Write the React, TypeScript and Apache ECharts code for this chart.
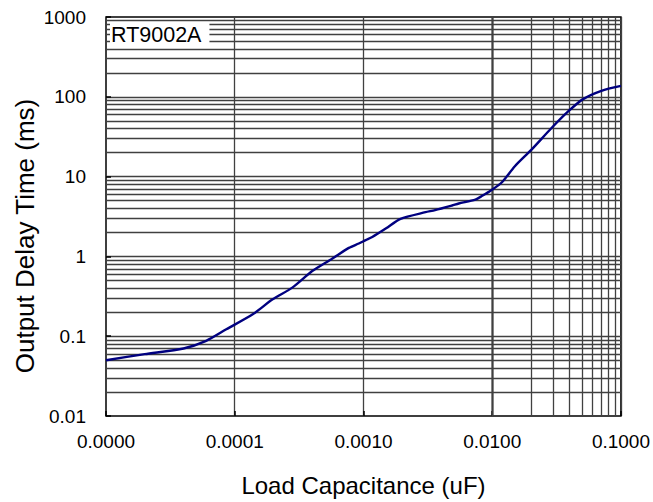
import React, { useEffect, useRef } from "react";
import * as echarts from "echarts";

const capacitance = [0.00001, 0.00002, 0.00004, 0.00006, 0.000086, 0.000138, 0.000197, 0.00028, 0.0004, 0.00057, 0.00077, 0.00092, 0.00104, 0.00117, 0.0015, 0.00194, 0.00303, 0.0036, 0.00487, 0.0055, 0.0074, 0.0083, 0.0099, 0.0119, 0.015, 0.0202, 0.0289, 0.0389, 0.0508, 0.0705, 0.1];
const delay = [0.05, 0.0596, 0.0702, 0.0874, 0.122, 0.188, 0.29, 0.406, 0.655, 0.935, 1.28, 1.45, 1.6, 1.75, 2.25, 2.96, 3.58, 3.8, 4.34, 4.6, 5.16, 5.7, 6.8, 8.5, 13.5, 21.8, 40.6, 65.5, 93.5, 119, 137];

const xDecades = [-5, -4, -3, -2];
const yDecades = [-2, -1, 0, 1, 2];
const minorMultipliers = [2, 3, 4, 5, 6, 7, 8, 9];

const titleText = "Output Delay Time vs. Load Capacitance";
const xTitle = "Load Capacitance (uF)";
const yTitle = "Output Delay Time (ms)";
const deviceLabel = "RT9002A";

const FONT = 'Arial, "Liberation Sans", sans-serif';
const GRID = "#404040";

export default function App() {
  const ref = useRef<HTMLDivElement>(null);
  useEffect(() => {
    if (!ref.current) return;
    const chart = echarts.init(ref.current, null, { renderer: "svg" });
    const gridMarks: any[] = [];
    xDecades.forEach((d) => minorMultipliers.forEach((m) => gridMarks.push({ xAxis: Number((m * Math.pow(10, d)).toPrecision(6)) })));
    yDecades.forEach((d) => minorMultipliers.forEach((m) => gridMarks.push({ yAxis: Number((m * Math.pow(10, d)).toPrecision(6)) })));
    const points = capacitance.map((c, i) => [c, delay[i]]);
    chart.setOption({
      animation: false,
      grid: { left: 106, right: 30, top: 17, bottom: 85, show: true, borderColor: "#000", borderWidth: 1.5, backgroundColor: "#fff" },
      xAxis: {
        type: "log",
        logBase: 10,
        min: 0.00001,
        max: 0.1,
        interval: 1,
        name: xTitle,
        nameLocation: "middle",
        nameGap: 57,
        nameTextStyle: { fontFamily: FONT, fontSize: 24, color: "#000" },
        axisLine: { show: false },
        axisTick: { show: true, inside: true, length: 5, lineStyle: { color: "#000", width: 1.5 } },
        axisLabel: { fontFamily: FONT, fontSize: 19, color: "#000", margin: 16, formatter: (v: number) => v.toFixed(4) },
        splitLine: { show: true, showMinLine: false, showMaxLine: false, lineStyle: { color: GRID, width: 1.3 } },
      },
      yAxis: {
        type: "log",
        logBase: 10,
        min: 0.01,
        max: 1000,
        interval: 1,
        axisLine: { show: false },
        axisTick: { show: true, inside: true, length: 5, lineStyle: { color: "#000", width: 1.5 } },
        axisLabel: { fontFamily: FONT, fontSize: 19, color: "#000", margin: 20, formatter: (v: number) => String(Number(v.toPrecision(6))) },
        splitLine: { show: true, showMinLine: false, showMaxLine: false, lineStyle: { color: GRID, width: 1.3 } },
      },
      graphic: [
        {
          type: "text",
          z: 100,
          x: 355,
          y: -4,
          style: { text: titleText, font: `bold 27.5px ${FONT}`, fill: "#000", textAlign: "center", textVerticalAlign: "bottom" },
        },
        {
          type: "text",
          z: 100,
          x: 25,
          y: 236,
          rotation: Math.PI / 2,
          style: { text: yTitle, font: `26px ${FONT}`, fill: "#000", textAlign: "center", textVerticalAlign: "middle" },
        },
        {
          type: "text",
          z: 100,
          x: 110,
          y: 23,
          style: { text: deviceLabel, font: `21.5px ${FONT}`, fill: "#000", backgroundColor: "#fff", padding: [1, 8, 2, 1] },
        },
      ],
      series: [
        {
          type: "line",
          data: [],
          silent: true,
          markLine: {
            silent: true,
            symbol: ["none", "none"],
            label: { show: false },
            lineStyle: { type: "solid", color: GRID, width: 1.3 },
            data: gridMarks,
          },
        },
        {
          type: "line",
          z: 5,
          data: points,
          smooth: 0.25,
          symbol: "none",
          lineStyle: { color: "#000080", width: 2.4 },
        },
      ],
    });
    return () => chart.dispose();
  }, []);
  return <div ref={ref} style={{ position: "fixed", left: 0, top: 0, width: 653, height: 502, background: "#fff" }} />;
}
